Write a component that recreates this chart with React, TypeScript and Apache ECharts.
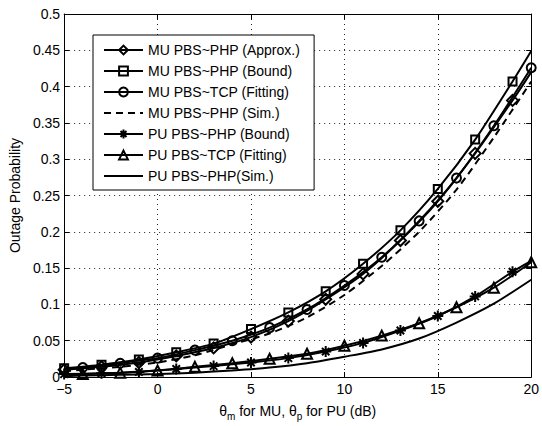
import React, { useEffect, useRef } from "react";
import * as echarts from "echarts";

// x positions (dB)
const oddDb = [-5, -3, -1, 1, 3, 5, 7, 9, 11, 13, 15, 17, 19, 20];
const evenDb = [-5, -4, -2, 0, 2, 4, 6, 8, 10, 12, 14, 16, 18, 20];

// series values
const muApprox = [0.010, 0.014, 0.020, 0.029, 0.040, 0.055, 0.077, 0.107, 0.142, 0.188, 0.242, 0.308, 0.381, 0.420];
const muBound = [0.012, 0.017, 0.024, 0.034, 0.046, 0.066, 0.089, 0.118, 0.156, 0.202, 0.259, 0.327, 0.407, 0.449];
const muTcp = [0.011, 0.013, 0.019, 0.026, 0.037, 0.050, 0.068, 0.093, 0.126, 0.165, 0.215, 0.274, 0.346, 0.426];
const muSim = [0.008, 0.010, 0.014, 0.020, 0.030, 0.045, 0.060, 0.082, 0.113, 0.153, 0.200, 0.258, 0.330, 0.407];
const puBound = [0.004, 0.005, 0.007, 0.011, 0.015, 0.020, 0.026, 0.035, 0.047, 0.064, 0.084, 0.111, 0.145, 0.160];
const puTcp = [0.003, 0.004, 0.006, 0.009, 0.014, 0.019, 0.025, 0.032, 0.043, 0.057, 0.074, 0.096, 0.123, 0.158];
const puSim = [0.001, 0.002, 0.003, 0.004, 0.006, 0.009, 0.013, 0.019, 0.028, 0.038, 0.053, 0.075, 0.101, 0.134];

const legendNames = [
  "MU PBS~PHP (Approx.)",
  "MU PBS~PHP (Bound)",
  "MU PBS~TCP (Fitting)",
  "MU PBS~PHP (Sim.)",
  "PU PBS~PHP (Bound)",
  "PU PBS~TCP (Fitting)",
  "PU PBS~PHP(Sim.)",
];

const xTicks = { min: -5, max: 20, interval: 5 };
const yTicks = { min: 0, max: 0.5, interval: 0.05 };

const FONT = "'Liberation Sans', Arial, Helvetica, sans-serif";
const ASTERISK = "path://M5,0L5,10M0,5L10,5M1.6,1.6L8.4,8.4M1.6,8.4L8.4,1.6";

function build(xs: number[], ys: number[], markOdd: boolean | null) {
  return xs.map((x, i) => {
    const isOdd = Math.abs(x) % 2 === 1;
    const show = markOdd === null ? false : markOdd ? isOdd : !isOdd && x !== -5;
    return show ? { value: [x, ys[i]] } : { value: [x, ys[i]], symbol: "none" };
  });
}

export default function App() {
  const ref = useRef<HTMLDivElement>(null);
  useEffect(() => {
    if (!ref.current) return;
    const chart = echarts.init(ref.current, null, { renderer: "svg" });
    const lineBase = (name: string, data: any[], symbol: string, size: number, dashed = false) => ({
      name,
      type: "line",
      data,
      symbol,
      symbolSize: size,
      showAllSymbol: true,
      smooth: 0.25,
      lineStyle: { color: "#000", width: 2, type: dashed ? [7, 5] : "solid" },
      itemStyle: { color: "rgba(0,0,0,0)", borderColor: "#000", borderWidth: 2 },
      emphasis: { disabled: true },
      z: 3,
    });
    const axisCommon = {
      type: "value",
      axisLine: { show: true, onZero: false, lineStyle: { color: "#000", width: 1 } },
      axisTick: { show: true, inside: true, length: 5, lineStyle: { color: "#000" } },
    };
    const option: any = {
      animation: false,
      backgroundColor: "#fff",
      textStyle: { fontFamily: FONT },
      grid: { left: 64, right: 5, top: 14, bottom: 42, containLabel: false },
      xAxis: [
        {
          ...axisCommon,
          ...xTicks,
          position: "bottom",
          axisLabel: {
            color: "#000",
            fontSize: 14,
            fontFamily: FONT,
            margin: 5,
            formatter: (v: number) => String(v).replace("-", "\u2212"),
          },
          splitLine: { show: true, lineStyle: { color: "#222", width: 1, type: [1, 4] } },
          name: "{a|θ}{b|m}{a| for MU, θ}{b|p}{a| for PU (dB)}",
          nameLocation: "middle",
          nameGap: 24,
          nameTextStyle: {
            rich: {
              a: { fontSize: 14, fontFamily: FONT, color: "#000" },
              b: { fontSize: 10, fontFamily: FONT, color: "#000", padding: [10, 0, 0, 0] },
            },
          },
        },
        {
          ...axisCommon,
          ...xTicks,
          position: "top",
          axisLabel: { show: false },
          splitLine: { show: false },
        },
      ],
      yAxis: [
        {
          ...axisCommon,
          ...yTicks,
          position: "left",
          axisLabel: {
            color: "#000",
            fontSize: 14,
            fontFamily: FONT,
            margin: 4,
            formatter: (v: number) => String(parseFloat(v.toFixed(2))),
          },
          splitLine: { show: true, lineStyle: { color: "#222", width: 1, type: [1, 4] } },
          name: "Outage Probability",
          nameLocation: "middle",
          nameGap: 39,
          nameTextStyle: { fontSize: 14, fontFamily: FONT, color: "#000" },
        },
        {
          ...axisCommon,
          ...yTicks,
          position: "right",
          axisLabel: { show: false },
          splitLine: { show: false },
        },
      ],
      legend: {
        orient: "vertical",
        left: 93,
        top: 35,
        data: legendNames.map((n, i) =>
          i === 3 || i === 6 ? { name: n, itemStyle: { opacity: 0 } } : { name: n }
        ),
        backgroundColor: "#fff",
        borderColor: "#000",
        borderWidth: 1,
        borderRadius: 0,
        padding: [8, 14, 7, 10],
        itemWidth: 39,
        itemHeight: 11,
        itemGap: 7,
        textStyle: { fontSize: 14, fontFamily: FONT, color: "#000", lineHeight: 14 },
        selectedMode: false,
        z: 10,
      },
      series: [
        lineBase(legendNames[0], build(oddDb, muApprox, true), "diamond", 11),
        lineBase(legendNames[1], build(oddDb, muBound, true), "rect", 8),
        lineBase(legendNames[2], build(evenDb, muTcp, false), "circle", 9),
        lineBase(legendNames[3], build(evenDb, muSim, null), "none", 0, true),
        lineBase(legendNames[4], build(oddDb, puBound, true), ASTERISK, 11),
        lineBase(legendNames[5], build(evenDb, puTcp, false), "triangle", 10),
        lineBase(legendNames[6], build(evenDb, puSim, null), "none", 0),
      ],
    };
    chart.setOption(option);
    return () => chart.dispose();
  }, []);
  return (
    <div
      ref={ref}
      style={{ position: "fixed", left: 0, top: 0, width: 542, height: 426, background: "#fff" }}
    />
  );
}
